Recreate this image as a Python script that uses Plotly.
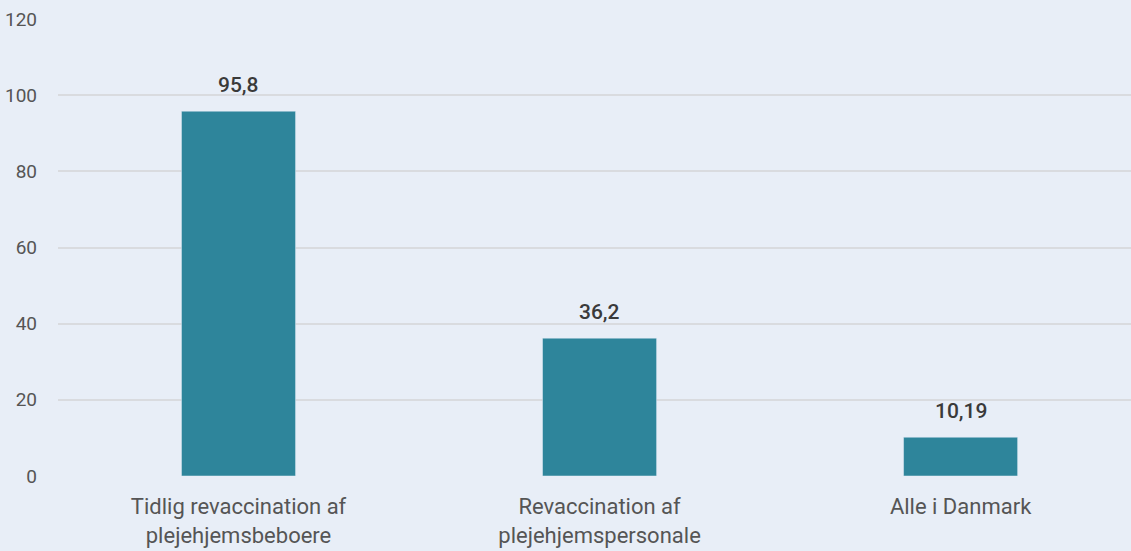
import plotly.graph_objects as go

categories = ["Tidlig revaccination af<br>plejehjemsbeboere",
              "Revaccination af<br>plejehjemspersonale",
              "Alle i Danmark"]
values = [95.8, 36.2, 10.19]
y_ticks = [0, 20, 40, 60, 80, 100, 120]

FONT = "Roboto"
BG = "#E8EEF7"
BAR = "#2E859B"

fig = go.Figure()
fig.add_trace(go.Bar(
    x=categories, y=values, marker_color=BAR, width=0.316,
    hoverinfo="skip",
))

for c, v in zip(categories, values):
    fig.add_annotation(
        x=c, y=v, text=f"{v}".replace(".", ","), showarrow=False,
        yanchor="bottom", yshift=12,
        font=dict(family=FONT, size=21, color="#3A3A3A", weight=500),
    )

fig.update_layout(
    width=1131, height=551,
    margin=dict(l=58, r=0, t=19, b=75),
    paper_bgcolor=BG, plot_bgcolor=BG,
    showlegend=False,
    font=dict(family=FONT, size=20, color="#555555"),
)
fig.update_xaxes(
    range=[-0.5, 2.472], showgrid=False, zeroline=False, showline=False,
    ticks="", tickfont=dict(family=FONT, size=22, color="#555555"),
    ticklabelstandoff=15,
)
fig.update_yaxes(
    range=[0, 120], tickvals=y_ticks, showgrid=True, gridcolor="#D9DBDF",
    gridwidth=2, zeroline=False, showline=False, ticks="",
    tickfont=dict(family=FONT, size=19, color="#555555"),
    ticklabelstandoff=20,
)

fig.write_html("out.html", config={"displayModeBar": False},
               post_script="document.body.style.margin='0';")
